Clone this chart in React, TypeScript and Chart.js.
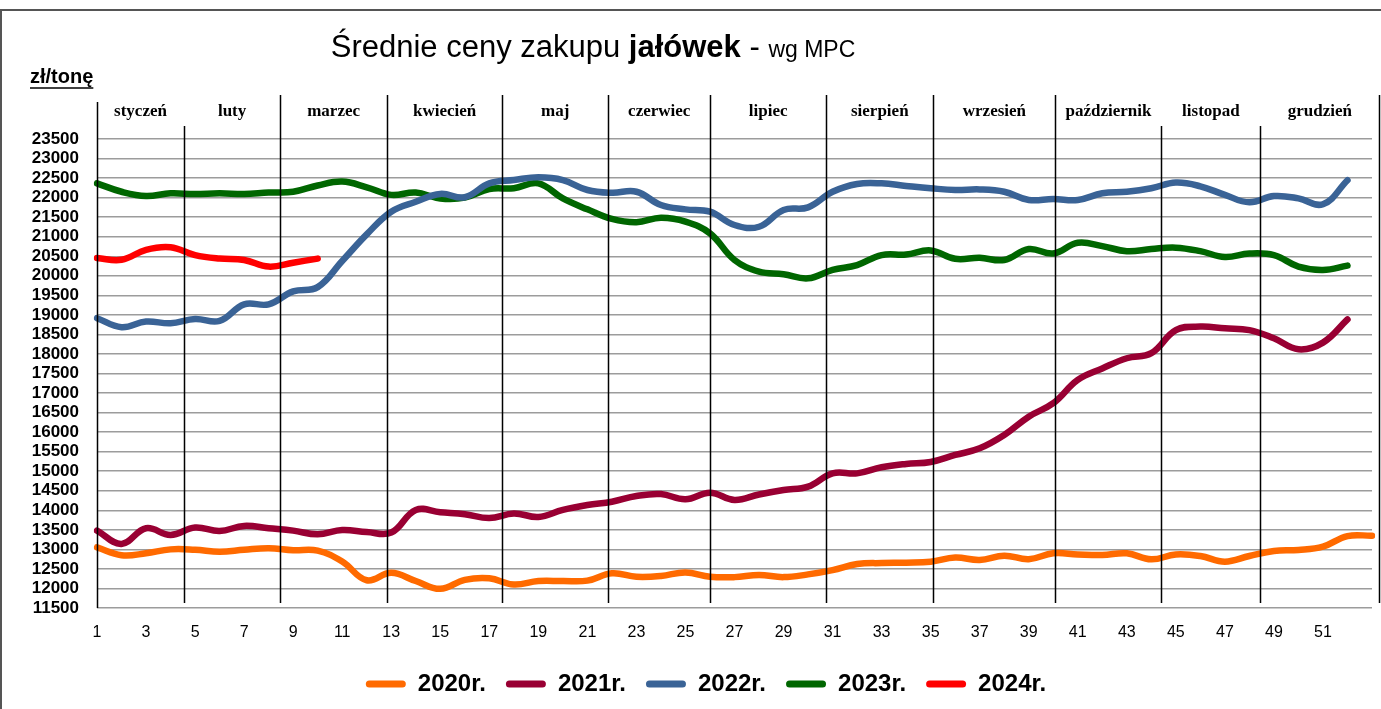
import React, { useEffect, useRef } from 'react';
import { Chart, registerables } from 'chart.js';

Chart.register(...registerables);

// ---- data ----
const weeks = ['1','2','3','4','5','6','7','8','9','10','11','12','13','14','15','16','17','18','19','20','21','22','23','24','25','26','27','28','29','30','31','32','33','34','35','36','37','38','39','40','41','42','43','44','45','46','47','48','49','50','51','52','53'];

const y2020 = [13050, 12850, 12900, 13000, 12990, 12940, 12990, 13030, 12980, 12970, 12690, 12210, 12400, 12190, 11990, 12220, 12260, 12100, 12190, 12190, 12200, 12390, 12300, 12320, 12410, 12300, 12290, 12345, 12290, 12360, 12470, 12625, 12650, 12660, 12685, 12790, 12730, 12840, 12750, 12900, 12870, 12855, 12900, 12745, 12870, 12830, 12685, 12830, 12960, 12985, 13070, 13340, 13350];
const y2021 = [13480, 13140, 13540, 13370, 13560, 13470, 13600, 13540, 13480, 13385, 13495, 13445, 13430, 14010, 13950, 13900, 13800, 13920, 13830, 14010, 14135, 14220, 14365, 14415, 14280, 14450, 14265, 14405, 14520, 14605, 14945, 14945, 15100, 15185, 15235, 15415, 15585, 15925, 16395, 16740, 17335, 17630, 17890, 18020, 18610, 18700, 18655, 18610, 18400, 18120, 18290, 18885];
const y2022 = [18915, 18685, 18830, 18785, 18895, 18845, 19270, 19270, 19600, 19710, 20380, 21060, 21640, 21895, 22095, 22010, 22365, 22450, 22520, 22450, 22195, 22125, 22150, 21810, 21700, 21640, 21300, 21255, 21685, 21750, 22150, 22350, 22365, 22300, 22240, 22195, 22210, 22150, 21940, 21965, 21940, 22110, 22150, 22240, 22385, 22290, 22070, 21880, 22040, 21980, 21830, 22445];
const y2023 = [22365, 22150, 22040, 22110, 22090, 22110, 22090, 22130, 22150, 22310, 22410, 22265, 22070, 22130, 21980, 22000, 22220, 22240, 22365, 21980, 21700, 21455, 21370, 21485, 21385, 21085, 20405, 20105, 20040, 19935, 20150, 20275, 20530, 20545, 20650, 20435, 20460, 20405, 20685, 20570, 20845, 20760, 20630, 20685, 20720, 20630, 20480, 20570, 20530, 20235, 20150, 20260];
const y2024 = [20455, 20410, 20665, 20730, 20530, 20440, 20405, 20235, 20335, 20440];

const seriesLabels = ['2020r.', '2021r.', '2022r.', '2023r.', '2024r.'];
const seriesColors = ['#FF6A00', '#990033', '#3A6396', '#006600', '#FF0000'];

const months = ['styczeń', 'luty', 'marzec', 'kwiecień', 'maj', 'czerwiec', 'lipiec', 'sierpień', 'wrzesień', 'październik', 'listopad', 'grudzień'];
// month boundaries expressed in week numbers
const monthBoundaries = [1, 4.55, 8.47, 12.83, 17.52, 21.85, 26.01, 30.74, 35.11, 40.09, 44.41, 48.45, 53.3];

const titleMain = 'Średnie ceny zakupu ';
const titleBold = 'jałówek';
const titleDash = ' - ';
const titleSmall = 'wg MPC';
const yUnit = 'zł/tonę';

const decorPlugin = {
  id: 'decor',
  afterLayout(chart: any) {
    // centre the legend the way the original does (slightly right of canvas centre)
    const lg = chart.legend;
    if (lg) {
      lg.left = 40;
      lg.right = 1372;
    }
  },
  afterDraw(chart: any) {
    const { ctx, chartArea, scales } = chart;
    const xs = scales.x;
    ctx.save();
    // outer frame
    ctx.strokeStyle = '#555';
    ctx.lineWidth = 2;
    ctx.beginPath();
    ctx.moveTo(0, 10);
    ctx.lineTo(1381, 10);
    ctx.moveTo(1, 10);
    ctx.lineTo(1, 709);
    ctx.stroke();

    // title
    ctx.fillStyle = '#000';
    ctx.textBaseline = 'alphabetic';
    ctx.textAlign = 'left';
    const fReg = '31px "Liberation Sans"';
    const fBold = 'bold 31px "Liberation Sans"';
    const fSmall = '23px "Liberation Sans"';
    ctx.font = fReg;
    const w1 = ctx.measureText(titleMain).width;
    const w3 = ctx.measureText(titleDash).width;
    ctx.font = fBold;
    const w2 = ctx.measureText(titleBold).width;
    ctx.font = fSmall;
    const w4 = ctx.measureText(titleSmall).width;
    let tx = 593 - (w1 + w2 + w3 + w4) / 2;
    const ty = 57;
    ctx.font = fReg; ctx.fillText(titleMain, tx, ty); tx += w1;
    ctx.font = fBold; ctx.fillText(titleBold, tx, ty); tx += w2;
    ctx.font = fReg; ctx.fillText(titleDash, tx, ty); tx += w3;
    ctx.font = fSmall; ctx.fillText(titleSmall, tx, ty);

    // unit label
    ctx.font = 'bold 20px "Liberation Sans"';
    const uw = ctx.measureText(yUnit).width;
    ctx.fillText(yUnit, 30, 83);
    ctx.lineWidth = 1.5;
    ctx.strokeStyle = '#000';
    ctx.beginPath();
    ctx.moveTo(30, 88);
    ctx.lineTo(30 + uw, 88);
    ctx.stroke();

    // month labels
    ctx.font = 'bold 17px "Liberation Serif"';
    ctx.textAlign = 'center';
    for (let i = 0; i < months.length; i++) {
      const a = xs.getPixelForValue(monthBoundaries[i] - 1);
      const b = xs.getPixelForValue(monthBoundaries[i + 1] - 1);
      ctx.fillText(months[i], (a + b) / 2, 116);
    }

    // month separators
    ctx.strokeStyle = '#000';
    ctx.lineWidth = 1.5;
    const lowTop = new Set([1, 10, 11]);
    for (let i = 0; i < monthBoundaries.length; i++) {
      const x = Math.round(xs.getPixelForValue(monthBoundaries[i] - 1)) + 0.5;
      const top = i === 0 ? 102 : lowTop.has(i) ? 126 : 95;
      const bottom = i === 0 ? chartArea.bottom : chartArea.bottom - 5;
      ctx.beginPath();
      ctx.moveTo(x, top);
      ctx.lineTo(x, bottom);
      ctx.stroke();
    }
    ctx.restore();
  },
};

export default function App() {
  const ref = useRef<HTMLCanvasElement | null>(null);
  useEffect(() => {
    document.body.style.margin = '0';
    const series = [y2020, y2021, y2022, y2023, y2024];
    const chart = new Chart(ref.current as HTMLCanvasElement, {
      type: 'line',
      data: {
        labels: weeks,
        datasets: series.map((d, i) => ({
          label: seriesLabels[i],
          data: d,
          borderColor: seriesColors[i],
          backgroundColor: seriesColors[i],
          borderWidth: 6.5,
          pointRadius: 0,
          pointHoverRadius: 0,
          tension: 0.4,
          borderCapStyle: 'round',
          borderJoinStyle: 'round',
          fill: false,
        })),
      },
      options: {
        responsive: false,
        animation: false,
        layout: { padding: { top: 139, left: 10, right: 9, bottom: 3 } },
        plugins: {
          title: { display: false },
          tooltip: { enabled: false },
          legend: {
            position: 'bottom',
            labels: {
              boxWidth: 40,
              boxHeight: 7,
              padding: 20,
              color: '#000',
              useBorderRadius: true,
              borderRadius: 3.5,
              font: { family: 'Liberation Sans', weight: 'bold', size: 24 },
              generateLabels: (c: any) =>
                c.data.datasets.map((d: any, i: number) => ({
                  text: d.label,
                  fillStyle: d.borderColor,
                  strokeStyle: d.borderColor,
                  lineWidth: 0,
                  hidden: false,
                  datasetIndex: i,
                  borderRadius: 3.5,
                  fontColor: '#000',
                })),
            },
          },
        },
        scales: {
          x: {
            grid: { display: false, drawTicks: false },
            border: { display: false },
            ticks: {
              autoSkip: false,
              maxRotation: 0,
              padding: 15,
              color: '#000',
              font: { family: 'Liberation Sans', size: 16 },
              callback: (_v: any, i: number) => (i % 2 === 0 && i < 52 ? weeks[i] : ''),
            },
            afterFit: (s: any) => { s.height = 44; s.paddingLeft = 0; s.paddingRight = 0; },
          },
          y: {
            min: 11500,
            max: 23500,
            grid: { color: '#9c9c9c', lineWidth: 1.5, drawTicks: false },
            border: { display: false },
            ticks: {
              stepSize: 500,
              autoSkip: false,
              padding: 18,
              color: '#000',
              font: { family: 'Liberation Sans', weight: 'bold', size: 17 },
              callback: (v: any) => String(v),
            },
            afterFit: (s: any) => { s.width = 87; },
          },
        },
      },
      plugins: [decorPlugin],
    } as any);
    return () => chart.destroy();
  }, []);
  return (
    <div style={{ width: 1381, height: 709, background: '#fff' }}>
      <canvas ref={ref} width={1381} height={709} style={{ display: 'block' }} />
    </div>
  );
}
